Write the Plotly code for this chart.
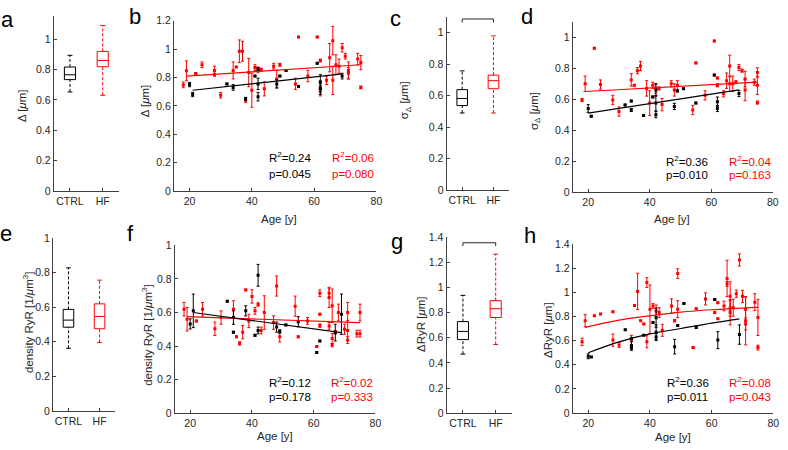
import plotly.graph_objects as go

W, H = 788, 450
RED = '#ff0000'
BLK = '#000000'
AX = '#404040'
TXT = '#262626'
FONT = 'Liberation Sans, Arial, sans-serif'

# ---------------- data ----------------
# boxplot stats: [lower whisker, q1, median, q3, upper whisker]
a_ctrl_box = [0.652, 0.733, 0.765, 0.816, 0.893]
a_hf_box = [0.63, 0.818, 0.859, 0.919, 1.09]
c_ctrl_box = [0.49, 0.537, 0.582, 0.638, 0.757]
c_hf_box = [0.49, 0.644, 0.695, 0.73, 0.979]
e_ctrl_box = [0.362, 0.484, 0.525, 0.587, 0.827]
e_hf_box = [0.396, 0.475, 0.546, 0.619, 0.756]
g_ctrl_box = [0.47, 0.586, 0.651, 0.729, 0.938]
g_hf_box = [0.547, 0.762, 0.832, 0.896, 1.266]
groups = ['CTRL', 'HF']

# panel b: Delta vs age
b_ctrl_age = [20, 21, 32, 34, 38, 41, 42, 42, 42, 48, 49, 51, 55, 61, 62, 62, 69]
b_ctrl_val = [0.75, 0.68, 0.755, 0.73, 0.65, 0.81, 0.755, 0.665, 0.86, 0.755, 0.81, 0.85, 0.737, 0.90, 0.77, 0.72, 0.81]
b_ctrl_err = [0.015, 0.015, 0.005, 0.02, 0.01, 0.005, 0.04, 0.03, 0.01, 0.03, 0.005, 0.005, 0.005, 0.005, 0.05, 0.04, 0.02]
b_hf_age = [18, 19, 22, 24, 28, 28, 30, 34, 35, 36, 37, 38, 39, 40, 41, 42, 43, 44, 47, 48,
            49, 54, 55, 58, 61, 62, 62, 62, 64, 65, 66, 66, 67, 68, 69, 70, 71, 71, 74, 75, 75]
b_hf_val = [0.748, 0.847, 0.828, 0.89, 0.85, 0.82, 0.675, 0.85, 0.874, 0.985, 0.985, 0.64, 0.835, 0.71, 0.87, 0.854, 0.856, 0.72, 0.88, 0.79,
            0.89, 0.755, 1.085, 0.81, 1.085, 0.92, 0.70, 0.74, 0.78, 0.94, 1.06, 0.78, 0.89, 0.88, 1.01, 0.95, 0.85, 0.83, 0.93, 0.905, 0.73]
b_hf_err = [0.02, 0.07, 0.005, 0.02, 0.03, 0.01, 0.02, 0.06, 0.005, 0.08, 0.07, 0.015, 0.1, 0.12, 0.02, 0.02, 0.01, 0.05, 0.02, 0.06,
            0.01, 0.04, 0.005, 0.04, 0.005, 0.01, 0.03, 0.03, 0.03, 0.1, 0.1, 0.1, 0.07, 0.05, 0.03, 0.02, 0.06, 0.04, 0.04, 0.05, 0.01]
b_fit_ctrl_x = [21, 69]
b_fit_ctrl_y = [0.71, 0.825]
b_fit_hf_x = [19, 75]
b_fit_hf_y = [0.81, 0.89]
b_stats = ['0.24', '0.045', '0.06', '0.080']

# panel d: sigma_Delta vs age
d_ctrl_age = [20, 21, 32, 34, 34, 38, 41, 42, 42, 42, 48, 49, 51, 55, 61, 62, 62, 69]
d_ctrl_val = [0.54, 0.49, 0.563, 0.588, 0.53, 0.494, 0.615, 0.66, 0.575, 0.50, 0.553, 0.653, 0.668, 0.575, 0.756, 0.584, 0.54, 0.637]
d_ctrl_err = [0.025, 0.005, 0.005, 0.005, 0.01, 0.005, 0.005, 0.04, 0.05, 0.02, 0.02, 0.005, 0.005, 0.005, 0.005, 0.03, 0.02, 0.02]
d_hf_age = [18, 19, 22, 24, 28, 30, 34, 35, 36, 37, 39, 40, 41, 42, 43, 44, 47, 48, 49, 54,
            55, 58, 61, 62, 62, 64, 65, 66, 66, 67, 68, 69, 70, 71, 71, 74, 75, 75, 75]
d_hf_val = [0.595, 0.70, 0.93, 0.695, 0.595, 0.52, 0.725, 0.69, 0.785, 0.815, 0.67, 0.575, 0.69, 0.67, 0.67, 0.565, 0.70, 0.66, 0.69, 0.53,
            0.835, 0.625, 0.977, 0.737, 0.69, 0.635, 0.72, 0.815, 0.70, 0.70, 0.71, 0.805, 0.785, 0.73, 0.66, 0.71, 0.773, 0.69, 0.578]
d_hf_err = [0.01, 0.05, 0.005, 0.03, 0.03, 0.03, 0.04, 0.005, 0.02, 0.03, 0.05, 0.08, 0.02, 0.03, 0.01, 0.04, 0.02, 0.04, 0.03, 0.03,
            0.005, 0.03, 0.005, 0.005, 0.01, 0.02, 0.05, 0.07, 0.05, 0.05, 0.01, 0.02, 0.01, 0.05, 0.07, 0.02, 0.03, 0.06, 0.01]
d_fit_ctrl_x = [20, 69]
d_fit_ctrl_y = [0.51, 0.66]
d_fit_hf_x = [19, 75]
d_fit_hf_y = [0.65, 0.71]
d_stats = ['0.36', '0.010', '0.04', '0.163']

# panel f: density RyR vs age
f_ctrl_age = [20, 21, 32, 34, 34, 38, 41, 42, 42, 48, 49, 51, 55, 61, 62, 67, 69]
f_ctrl_val = [0.532, 0.61, 0.667, 0.57, 0.483, 0.61, 0.464, 0.822, 0.493, 0.513, 0.487, 0.526, 0.545, 0.362, 0.43, 0.48, 0.59]
f_ctrl_err = [0.03, 0.1, 0.005, 0.04, 0.005, 0.03, 0.005, 0.065, 0.02, 0.03, 0.01, 0.005, 0.03, 0.005, 0.005, 0.05, 0.12]
f_hf_age = [18, 19, 22, 24, 28, 30, 34, 35, 36, 37, 38, 39, 40, 41, 42, 43, 44, 47, 48, 49,
            54, 55, 58, 61, 62, 62, 62, 65, 65, 65, 66, 66, 66, 67, 68, 70, 71, 71, 71, 74, 75, 75]
f_hf_val = [0.62, 0.56, 0.55, 0.62, 0.503, 0.57, 0.62, 0.455, 0.416, 0.483, 0.735, 0.55, 0.696, 0.61, 0.648, 0.493, 0.60, 0.54, 0.758, 0.455,
            0.638, 0.455, 0.55, 0.397, 0.715, 0.59, 0.522, 0.715, 0.69, 0.52, 0.64, 0.445, 0.406, 0.483, 0.60, 0.50, 0.60, 0.493, 0.435, 0.474, 0.60, 0.474]
f_hf_err = [0.04, 0.07, 0.005, 0.04, 0.04, 0.04, 0.05, 0.005, 0.01, 0.04, 0.005, 0.04, 0.04, 0.02, 0.01, 0.02, 0.1, 0.04, 0.06, 0.03,
            0.06, 0.005, 0.02, 0.005, 0.02, 0.005, 0.01, 0.03, 0.06, 0.02, 0.1, 0.03, 0.01, 0.01, 0.05, 0.03, 0.06, 0.06, 0.02, 0.02, 0.05, 0.02]
f_fit_ctrl_x = [21, 69]
f_fit_ctrl_y = [0.60, 0.48]
f_fit_hf_x = [19, 75]
f_fit_hf_y = [0.575, 0.54]
f_stats = ['0.12', '0.178', '0.02', '0.333']

# panel h: Delta RyR vs age
h_ctrl_age = [20, 21, 32, 34, 34, 34, 38, 41, 42, 42, 42, 48, 49, 51, 55, 61, 62, 69]
h_ctrl_val = [0.47, 0.465, 0.69, 0.617, 0.56, 0.54, 0.645, 0.75, 0.79, 0.67, 0.63, 0.55, 0.725, 0.907, 0.71, 0.94, 0.604, 0.65]
h_ctrl_err = [0.02, 0.005, 0.005, 0.01, 0.03, 0.02, 0.005, 0.005, 0.08, 0.06, 0.03, 0.06, 0.005, 0.005, 0.01, 0.005, 0.07, 0.08]
h_hf_age = [18, 19, 22, 24, 28, 28, 30, 34, 35, 36, 37, 38, 39, 39, 40, 41, 42, 43, 44, 47,
            48, 49, 49, 54, 55, 58, 61, 62, 62, 64, 65, 65, 66, 66, 66, 67, 68, 69, 70, 71, 71, 71, 74, 75, 75]
h_hf_val = [0.59, 0.765, 0.805, 0.82, 0.838, 0.604, 0.564, 0.604, 0.89, 1.007, 0.765, 0.738, 1.08, 0.59, 0.86, 0.886, 0.845, 0.832, 0.685, 0.886,
            0.765, 1.154, 0.86, 0.542, 0.864, 0.945, 0.832, 0.913, 0.78, 0.886, 1.114, 1.07, 0.966, 0.87, 0.83, 0.872, 0.988, 1.267, 0.966, 0.86,
            0.765, 0.738, 0.918, 0.792, 0.542]
h_hf_err = [0.03, 0.05, 0.005, 0.005, 0.005, 0.05, 0.02, 0.04, 0.005, 0.15, 0.005, 0.005, 0.04, 0.05, 0.2, 0.02, 0.05, 0.04, 0.05, 0.06,
            0.01, 0.04, 0.07, 0.005, 0.005, 0.05, 0.005, 0.005, 0.005, 0.04, 0.15, 0.02, 0.12, 0.07, 0.1, 0.07, 0.03, 0.05, 0.05, 0.1,
            0.2, 0.05, 0.07, 0.15, 0.02]
h_fit_ctrl_x = [20, 30, 40, 50, 60, 69]
h_fit_ctrl_y = [0.50, 0.59, 0.655, 0.70, 0.745, 0.78]
h_fit_hf_x = [19, 30, 40, 50, 60, 75]
h_fit_hf_y = [0.71, 0.77, 0.805, 0.835, 0.855, 0.875]
h_stats = ['0.36', '0.011', '0.08', '0.043']

age_ticks = [20, 40, 60, 80]

# ---------------- layout helpers ----------------
# pixel boxes: left, right, top, bottom
panels = {
    'a': dict(n=1, box=(54, 120, 10.6, 190), xr=[0.5, 2.5], yr=[0, 1.15]),
    'b': dict(n=2, box=(175.3, 379.3, 15.2, 190), xr=[15, 80], yr=[0, 1.2]),
    'c': dict(n=3, box=(450, 513, 11.1, 189.3), xr=[0.5, 2.5], yr=[0, 1.1]),
    'd': dict(n=4, box=(577.2, 778.7, 16.4, 191), xr=[15, 80], yr=[0, 1.1]),
    'e': dict(n=5, box=(53.3, 116, 238.3, 416), xr=[0.5, 2.5], yr=[0, 1.0]),
    'f': dict(n=6, box=(176.1, 378.3, 246, 418.3), xr=[15, 80], yr=[0, 1.0]),
    'g': dict(n=7, box=(450, 516, 237.7, 418.3), xr=[0.5, 2.5], yr=[0, 1.4]),
    'h': dict(n=8, box=(577.2, 779.3, 244.4, 418.3), xr=[15, 80], yr=[0, 1.4]),
}

fig = go.Figure()
layout = dict(width=W, height=H, margin=dict(l=0, r=0, t=0, b=0),
              paper_bgcolor='white', plot_bgcolor='white', showlegend=False,
              font=dict(family=FONT, size=10, color=TXT))
annotations = []


def ax_ids(n):
    return ('x' if n == 1 else f'x{n}'), ('y' if n == 1 else f'y{n}')


for key, p in panels.items():
    n = p['n']
    l, r, t, b = p['box']
    xk = 'xaxis' if n == 1 else f'xaxis{n}'
    yk = 'yaxis' if n == 1 else f'yaxis{n}'
    xid, yid = ax_ids(n)
    common = dict(showline=True, linecolor=AX, linewidth=1, ticks='inside', ticklen=3,
                  tickcolor=AX, showgrid=False, zeroline=False, fixedrange=True,
                  tickfont=dict(family=FONT, size=10.5, color=TXT))
    if p['xr'][0] == 0.5:
        xa = dict(tickvals=[1, 2], ticktext=groups)
    else:
        xa = dict(tickvals=age_ticks)
    layout[xk] = dict(domain=[l / W, r / W], range=p['xr'], anchor=yid, **xa, **common)
    layout[yk] = dict(domain=[1 - b / H, 1 - t / H], range=p['yr'], anchor=xid, dtick=0.2, **common)


def add_box(n, pos, s, color):
    xid, yid = ax_ids(n)
    lo, q1, med, q3, hi = s
    hw, cw = 0.17, 0.075
    kw = dict(xaxis=xid, yaxis=yid, mode='lines', hoverinfo='skip', cliponaxis=False)
    fig.add_trace(go.Scatter(x=[pos - hw, pos + hw, pos + hw, pos - hw, pos - hw], y=[q1, q1, q3, q3, q1],
                             line=dict(color=color, width=1), **kw))
    fig.add_trace(go.Scatter(x=[pos - hw, pos + hw], y=[med, med], line=dict(color=color, width=1), **kw))
    fig.add_trace(go.Scatter(x=[pos, pos, None, pos, pos], y=[q3, hi, None, lo, q1],
                             line=dict(color=color, width=1, dash='3px,2px'), **kw))
    fig.add_trace(go.Scatter(x=[pos - cw, pos + cw, None, pos - cw, pos + cw], y=[hi, hi, None, lo, lo],
                             line=dict(color=color, width=1), **kw))


def add_bracket(n, ytop, ybot):
    xid, yid = ax_ids(n)
    fig.add_trace(go.Scatter(x=[1, 1, 2, 2], y=[ybot, ytop, ytop, ybot], xaxis=xid, yaxis=yid,
                             mode='lines', line=dict(color=TXT, width=1), cliponaxis=False, hoverinfo='skip'))


def add_scatter(n, age, val, err, color):
    xid, yid = ax_ids(n)
    fig.add_trace(go.Scatter(x=age, y=val, xaxis=xid, yaxis=yid, mode='markers',
                             marker=dict(symbol='square', size=3, color=color),
                             error_y=dict(type='data', array=err, color=color, thickness=1, width=1.5)))


def add_fit(n, x, y, color):
    xid, yid = ax_ids(n)
    fig.add_trace(go.Scatter(x=x, y=y, xaxis=xid, yaxis=yid, mode='lines',
                             line=dict(color=color, width=1.2, shape='spline'), hoverinfo='skip'))


def add_stats(n, stats, ytop, ybot):
    xid, yid = ax_ids(n)
    r2c, pc, r2h, ph = stats
    for txt, x, y, col in [(f'R<sup>2</sup>={r2c}', 44.8, ytop, BLK), (f'p={pc}', 44.8, ybot, BLK),
                           (f'R<sup>2</sup>={r2h}', 65.0, ytop, RED), (f'p={ph}', 65.0, ybot, RED)]:
        annotations.append(dict(text=txt, x=x, y=y, xref=xid, yref=yid, xanchor='left', yanchor='middle',
                                showarrow=False, font=dict(family=FONT, size=11.5, color=col)))


# panel a
add_box(1, 1, a_ctrl_box, BLK)
add_box(1, 2, a_hf_box, RED)
add_bracket(1, 1.2, 1.175)
# panel c
add_box(3, 1, c_ctrl_box, BLK)
add_box(3, 2, c_hf_box, RED)
add_bracket(3, 1.086, 1.064)
# panel e
add_box(5, 1, e_ctrl_box, BLK)
add_box(5, 2, e_hf_box, RED)
# panel g
add_box(7, 1, g_ctrl_box, BLK)
add_box(7, 2, g_hf_box, RED)
add_bracket(7, 1.357, 1.33)

# scatter panels
add_scatter(2, b_hf_age, b_hf_val, b_hf_err, RED)
add_scatter(2, b_ctrl_age, b_ctrl_val, b_ctrl_err, BLK)
add_fit(2, b_fit_hf_x, b_fit_hf_y, RED)
add_fit(2, b_fit_ctrl_x, b_fit_ctrl_y, BLK)
add_stats(2, b_stats, 0.24, 0.12)

add_scatter(4, d_hf_age, d_hf_val, d_hf_err, RED)
add_scatter(4, d_ctrl_age, d_ctrl_val, d_ctrl_err, BLK)
add_fit(4, d_fit_hf_x, d_fit_hf_y, RED)
add_fit(4, d_fit_ctrl_x, d_fit_ctrl_y, BLK)
add_stats(4, d_stats, 0.20, 0.11)

add_scatter(6, f_hf_age, f_hf_val, f_hf_err, RED)
add_scatter(6, f_ctrl_age, f_ctrl_val, f_ctrl_err, BLK)
add_fit(6, f_fit_hf_x, f_fit_hf_y, RED)
add_fit(6, f_fit_ctrl_x, f_fit_ctrl_y, BLK)
add_stats(6, f_stats, 0.184, 0.097)

add_scatter(8, h_hf_age, h_hf_val, h_hf_err, RED)
add_scatter(8, h_ctrl_age, h_ctrl_val, h_ctrl_err, BLK)
add_fit(8, h_fit_hf_x, h_fit_hf_y, RED)
add_fit(8, h_fit_ctrl_x, h_fit_ctrl_y, BLK)
add_stats(8, h_stats, 0.255, 0.134)

# panel letters
for letter, x, y in [('a', 8, 14), ('b', 136, 11), ('c', 399, 13), ('d', 531, 11),
                     ('e', 6, 234), ('f', 132, 234), ('g', 400, 242), ('h', 534, 236)]:
    annotations.append(dict(text=letter, x=x / W, y=1 - y / H, xref='paper', yref='paper',
                            xanchor='center', yanchor='middle', showarrow=False,
                            font=dict(family=FONT, size=22, color='black')))

# axis titles
ytitles = [('Δ [<i>μ</i>m]', 22, 102), ('Δ [<i>μ</i>m]', 147, 97),
           ('σ<sub>Δ</sub> [<i>μ</i>m]', 409, 97), ('σ<sub>Δ</sub> [<i>μ</i>m]', 539, 108),
           ('density RyR [1/<i>μ</i>m<sup>3</sup>]', 29, 325), ('density RyR [1/<i>μ</i>m<sup>3</sup>]', 148, 338),
           ('ΔRyR [<i>μ</i>m]', 425, 327), ('ΔRyR [<i>μ</i>m]', 552, 333)]
for txt, x, y in ytitles:
    annotations.append(dict(text=txt, x=x / W, y=1 - y / H, xref='paper', yref='paper', textangle=-90,
                            xanchor='center', yanchor='middle', showarrow=False,
                            font=dict(family=FONT, size=11.5, color=TXT)))
for x, y in [(281, 219), (677, 219), (277, 442), (678, 443)]:
    annotations.append(dict(text='Age [y]', x=x / W, y=1 - y / H, xref='paper', yref='paper',
                            xanchor='center', yanchor='middle', showarrow=False,
                            font=dict(family=FONT, size=11.5, color=TXT)))

layout['annotations'] = annotations
fig.update_layout(**layout)
fig.write_html('out.html', config={'displayModeBar': False},
               post_script="document.body.style.margin='0';document.body.style.overflow='hidden';")
